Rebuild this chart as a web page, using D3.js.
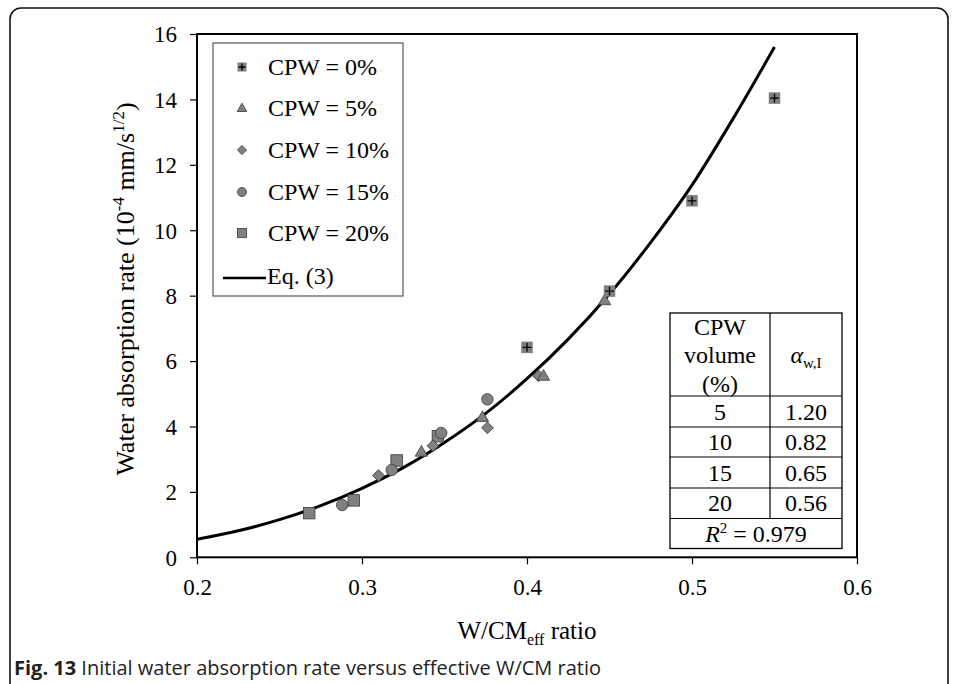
<!DOCTYPE html>
<html><head><meta charset="utf-8">
<script src="https://cdnjs.cloudflare.com/ajax/libs/d3/7.8.5/d3.min.js"></script>
<style>
html,body{margin:0;padding:0;background:#fff;}
svg{display:block;}
svg text{font-family:'Liberation Serif','Times New Roman',serif;}
</style></head>
<body>
<script>
// ---------- data ----------
const xTicks = [0.2, 0.3, 0.4, 0.5, 0.6];
const yTicks = [0, 2, 4, 6, 8, 10, 12, 14, 16];

const cpw0X = [0.400, 0.450, 0.500, 0.550];
const cpw0Y = [6.42, 8.14, 10.90, 14.04];
const cpw5X = [0.336, 0.373, 0.410, 0.447];
const cpw5Y = [3.23, 4.29, 5.55, 7.86];
const cpw10X = [0.310, 0.343, 0.376, 0.407];
const cpw10Y = [2.50, 3.41, 3.96, 5.55];
const cpw15X = [0.288, 0.318, 0.348, 0.376];
const cpw15Y = [1.60, 2.67, 3.80, 4.83];
const cpw20X = [0.268, 0.295, 0.321, 0.346];
const cpw20Y = [1.35, 1.74, 2.96, 3.70];

// Eq. (3) curve
const eqX = [0.200, 0.225, 0.250, 0.275, 0.300, 0.325, 0.350, 0.375, 0.400, 0.425, 0.450, 0.475, 0.500, 0.525, 0.550];
const eqY = [0.55, 0.81, 1.15, 1.58, 2.11, 2.74, 3.51, 4.40, 5.46, 6.67, 8.05, 9.63, 11.38, 13.42, 15.60];

const legendLabels = ["CPW = 0%", "CPW = 5%", "CPW = 10%", "CPW = 15%", "CPW = 20%"];
const tableVolume = ["5", "10", "15", "20"];
const tableAlpha = ["1.20", "0.82", "0.65", "0.56"];
const r2Text = "0.979";

// ---------- setup ----------
const W = 958, H = 684;
const svg = d3.select("body").append("svg").attr("width", W).attr("height", H);
const serif = "'Liberation Serif','Times New Roman',serif";
const fillG = "#808080", strokeG = "#3a3a3a";

// outer rounded frame
svg.append("rect").attr("x", 10).attr("y", 8).attr("width", 938).attr("height", 690)
  .attr("rx", 11).attr("fill", "none").attr("stroke", "#111").attr("stroke-width", 1.6);

const L = 197, R = 857, T = 34, B = 557.3;
const x = d3.scaleLinear().domain([0.2, 0.6]).range([L, R]);
const y = d3.scaleLinear().domain([0, 16]).range([B, T]);

// plot frame
svg.append("rect").attr("x", L).attr("y", T).attr("width", R - L).attr("height", B - T)
  .attr("fill", "none").attr("stroke", "#000").attr("stroke-width", 2);

// axes
const xAxis = svg.append("g").attr("transform", `translate(0,${B})`)
  .call(d3.axisBottom(x).tickValues(xTicks).tickFormat(d3.format(".1f")).tickSize(7).tickPadding(10));
const yAxis = svg.append("g").attr("transform", `translate(${L},0)`)
  .call(d3.axisLeft(y).tickValues(yTicks).tickFormat(d3.format("d")).tickSize(7).tickPadding(13));
[xAxis, yAxis].forEach(g => {
  g.attr("font-family", serif).attr("font-size", 23);
  g.select(".domain").remove();
});
svg.selectAll(".tick line").attr("stroke", "#000").attr("stroke-width", 1.2);
svg.selectAll(".tick text").style("font-family", serif).style("font-size", "23px").attr("fill", "#000");
xAxis.selectAll(".tick text").attr("dy", "0.9em");
yAxis.selectAll(".tick text").attr("dy", "0.34em");

// axis titles
const xt = svg.append("text").attr("x", 527).attr("y", 639).attr("text-anchor", "middle")
  .style("font-family", serif).style("font-size", "25px").attr("fill", "#000");
xt.append("tspan").text("W/CM");
xt.append("tspan").style("font-size", "16px").attr("dy", 6).text("eff");
xt.append("tspan").attr("dy", -6).text(" ratio");

const yt = svg.append("text").attr("transform", "translate(134,289) rotate(-90)").attr("text-anchor", "middle")
  .style("font-family", serif).style("font-size", "26px").attr("fill", "#000");
yt.append("tspan").text("Water absorption rate (10");
yt.append("tspan").style("font-size", "17px").attr("dy", -10).text("-4");
yt.append("tspan").attr("dy", 10).text(" mm/s");
yt.append("tspan").style("font-size", "17px").attr("dy", -10).text("1/2");
yt.append("tspan").attr("dy", 10).text(")");

// curve
const eqData = eqX.map((v, i) => [v, eqY[i]]);
svg.append("path").datum(eqData)
  .attr("d", d3.line().x(d => x(d[0])).y(d => y(d[1])).curve(d3.curveMonotoneX))
  .attr("fill", "none").attr("stroke", "#000").attr("stroke-width", 3);

// marker drawing
function drawMarker(g, type, cx, cy, s) {
  if (type === "plus") {
    g.append("rect").attr("x", cx - s / 2).attr("y", cy - s / 2).attr("width", s).attr("height", s)
      .attr("fill", fillG);
    g.append("path").attr("d", `M${cx - s * 0.38},${cy}H${cx + s * 0.38}M${cx},${cy - s * 0.38}V${cy + s * 0.38}`)
      .attr("stroke", "#000").attr("stroke-width", 1.3);
  } else if (type === "tri") {
    g.append("path").attr("d", d3.symbol(d3.symbolTriangle, s * s * 0.5)())
      .attr("transform", `translate(${cx},${cy + s * 0.08})`).attr("fill", fillG).attr("stroke", strokeG).attr("stroke-width", 0.8);
  } else if (type === "dia") {
    g.append("path").attr("d", d3.symbol(d3.symbolSquare, s * s * 0.52)())
      .attr("transform", `translate(${cx},${cy}) rotate(45)`).attr("fill", fillG).attr("stroke", strokeG).attr("stroke-width", 0.8);
  } else if (type === "circ") {
    g.append("circle").attr("cx", cx).attr("cy", cy).attr("r", s / 2)
      .attr("fill", fillG).attr("stroke", strokeG).attr("stroke-width", 0.8);
  } else if (type === "sq") {
    g.append("rect").attr("x", cx - s / 2).attr("y", cy - s / 2).attr("width", s).attr("height", s)
      .attr("fill", fillG).attr("stroke", strokeG).attr("stroke-width", 0.8);
  }
}

const series = [
  {type: "plus", xs: cpw0X, ys: cpw0Y},
  {type: "tri", xs: cpw5X, ys: cpw5Y},
  {type: "dia", xs: cpw10X, ys: cpw10Y},
  {type: "circ", xs: cpw15X, ys: cpw15Y},
  {type: "sq", xs: cpw20X, ys: cpw20Y}
];
const markG = svg.append("g");
[4, 3, 2, 1, 0].forEach(si => {
  const s = series[si];
  s.xs.forEach((v, i) => drawMarker(markG, s.type, x(v), y(s.ys[i]), 11.5));
});

// legend
const lg = svg.append("g");
lg.append("rect").attr("x", 213).attr("y", 43).attr("width", 190).attr("height", 253)
  .attr("fill", "#fff").attr("stroke", "#555").attr("stroke-width", 1.2);
const rowY = [67, 108, 150, 192, 233];
series.forEach((s, i) => {
  drawMarker(lg, s.type, 242, rowY[i], 9);
  lg.append("text").attr("x", 268).attr("y", rowY[i]).attr("dy", "0.34em")
    .style("font-family", serif).style("font-size", "24px").attr("fill", "#000").text(legendLabels[i]);
});
lg.append("line").attr("x1", 223).attr("x2", 266).attr("y1", 278).attr("y2", 278)
  .attr("stroke", "#000").attr("stroke-width", 2.5);
lg.append("text").attr("x", 267).attr("y", 276).attr("dy", "0.34em")
  .style("font-family", serif).style("font-size", "24px").attr("fill", "#000").text("Eq. (3)");

// table
const tg = svg.append("g");
const tL = 670, tM = 770, tR = 842, tT = 313;
const lines = [396, 427, 457, 488, 518.5, 548.5];
tg.append("rect").attr("x", tL).attr("y", tT).attr("width", tR - tL).attr("height", lines[5] - tT)
  .attr("fill", "#fff").attr("stroke", "#000").attr("stroke-width", 1.3);
lines.slice(0, 5).forEach(ly => tg.append("line").attr("x1", tL).attr("x2", tR).attr("y1", ly).attr("y2", ly)
  .attr("stroke", "#000").attr("stroke-width", 1.2));
tg.append("line").attr("x1", tM).attr("x2", tM).attr("y1", tT).attr("y2", lines[4])
  .attr("stroke", "#000").attr("stroke-width", 1.2);
const c1 = (tL + tM) / 2, c2 = (tM + tR) / 2;
const tfs = "24px";
[["CPW", 327], ["volume", 355], ["(%)", 384]].forEach(([t, yy]) =>
  tg.append("text").attr("x", c1).attr("y", yy).attr("dy", "0.34em").attr("text-anchor", "middle")
    .style("font-family", serif).style("font-size", tfs).attr("fill", "#000").text(t));
const at = tg.append("text").attr("x", c2).attr("y", 355).attr("dy", "0.34em").attr("text-anchor", "middle")
  .style("font-family", serif).style("font-size", tfs).attr("fill", "#000");
at.append("tspan").attr("font-style", "italic").text("α");
at.append("tspan").style("font-size", "15px").attr("dy", 5).text("w,I");
tableVolume.forEach((v, i) => {
  const cy = (lines[i] + lines[i + 1]) / 2;
  tg.append("text").attr("x", c1).attr("y", cy).attr("dy", "0.34em").attr("text-anchor", "middle")
    .style("font-family", serif).style("font-size", tfs).attr("fill", "#000").text(v);
  tg.append("text").attr("x", c2).attr("y", cy).attr("dy", "0.34em").attr("text-anchor", "middle")
    .style("font-family", serif).style("font-size", tfs).attr("fill", "#000").text(tableAlpha[i]);
});
const rt = tg.append("text").attr("x", (tL + tR) / 2).attr("y", (lines[4] + lines[5]) / 2).attr("dy", "0.34em")
  .attr("text-anchor", "middle").style("font-family", serif).style("font-size", tfs).attr("fill", "#000");
rt.append("tspan").attr("font-style", "italic").text("R");
rt.append("tspan").style("font-size", "15px").attr("dy", -9).text("2");
rt.append("tspan").attr("dy", 9).text(" = " + r2Text);

// caption
const cap = svg.append("text").attr("x", 14).attr("y", 675).style("font-family", "'Open Sans',sans-serif")
  .style("font-size", "20px").attr("fill", "#222");
cap.append("tspan").attr("font-weight", "bold").text("Fig. 13");
cap.append("tspan").text(" Initial water absorption rate versus effective W/CM ratio");
</script>
</body></html>
